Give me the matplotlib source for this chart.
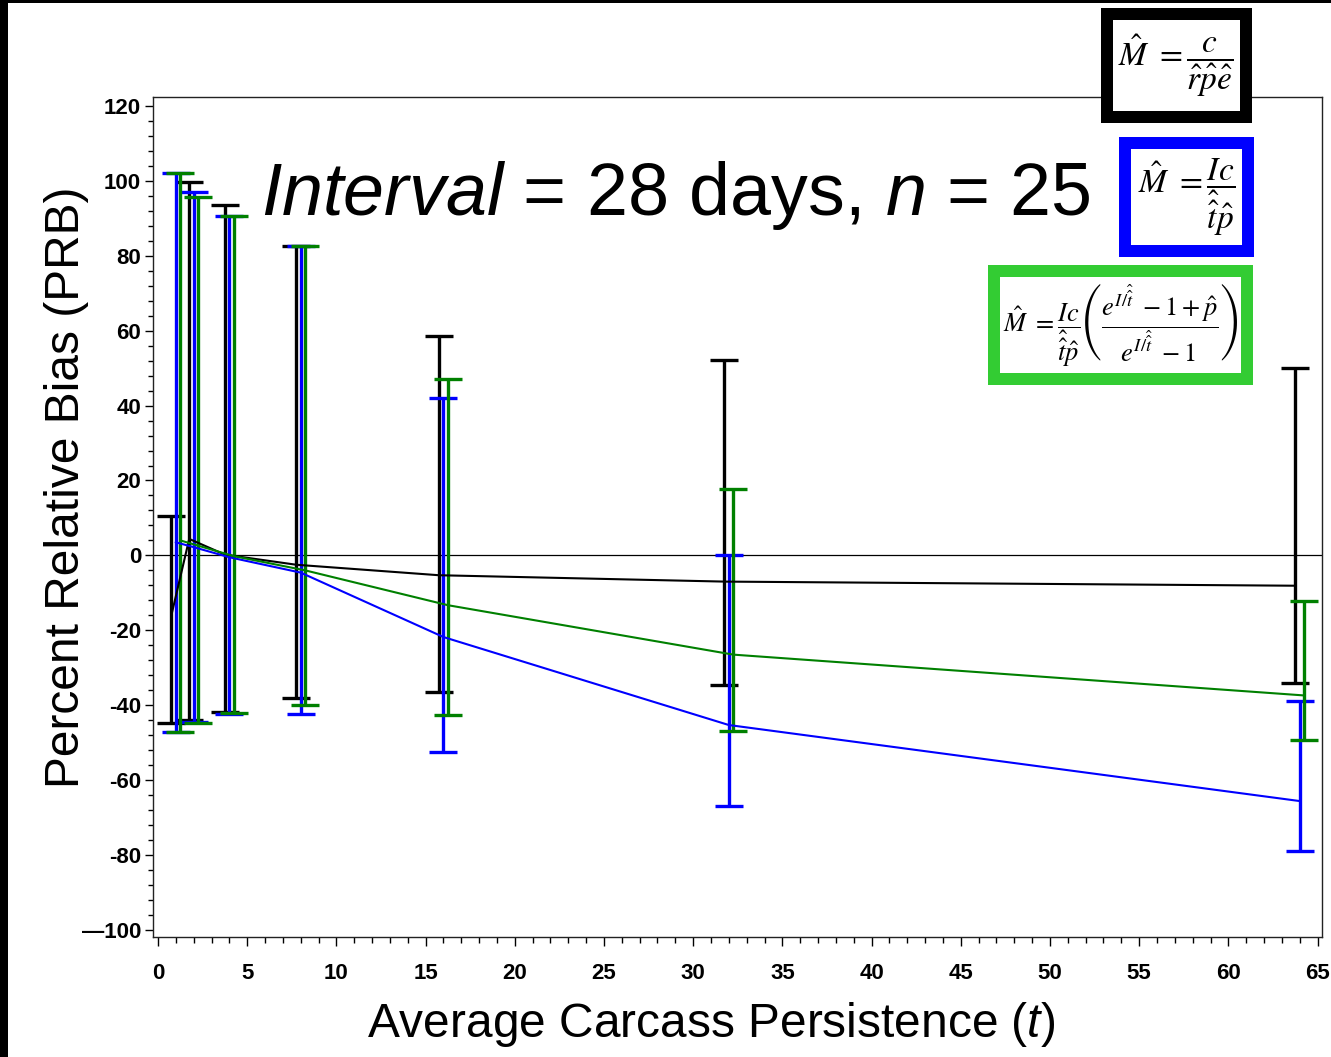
import matplotlib
matplotlib.use("Agg")
import matplotlib.pyplot as plt
from matplotlib.patches import Rectangle
from matplotlib.ticker import MultipleLocator

# ---------------- data ----------------
t_values = [1, 2, 4, 8, 16, 32, 64]

black_mean = [-16.0, 4.4, 0.2, -2.5, -5.3, -7.0, -8.1]
black_lo = [-44.7, -44.0, -41.7, -38.2, -36.6, -34.7, -34.2]
black_hi = [10.6, 99.8, 93.6, 82.7, 58.7, 52.2, 50.0]

blue_mean = [3.5, 2.2, -0.5, -4.6, -21.8, -45.3, -65.6]
blue_lo = [-47.1, -44.5, -42.4, -42.4, -52.4, -66.9, -79.0]
blue_hi = [102.1, 97.0, 90.5, 82.7, 41.9, 0.2, -39.0]

green_mean = [4.0, 2.6, -0.2, -4.0, -13.3, -26.5, -37.4]
green_lo = [-47.1, -44.7, -42.0, -40.0, -42.5, -46.9, -49.4]
green_hi = [102.1, 95.7, 90.5, 82.7, 47.0, 17.7, -12.1]

x_ticks = [0, 5, 10, 15, 20, 25, 30, 35, 40, 45, 50, 55, 60, 65]
y_ticks = [-100, -80, -60, -40, -20, 0, 20, 40, 60, 80, 100, 120]
y_tick_labels = ["\u2014100", "-80", "-60", "-40", "-20", "0", "20", "40", "60", "80", "100", "120"]

title_text = r"$\mathit{Interval}$ = 28 days, $\mathit{n}$ = 25"
x_label = r"Average Carcass Persistence ($\mathit{t}$)"
y_label = "Percent Relative Bias (PRB)"
formula_black = r"$\hat{M}\ =\dfrac{c}{\hat{r}\hat{p}\hat{e}}$"
formula_blue = r"$\hat{M}\ =\dfrac{Ic}{\hat{\hat{t}}\hat{p}}$"
formula_green = (r"$\hat{M}\ =\dfrac{Ic}{\hat{\hat{t}}\hat{p}}"
                 r"\left(\dfrac{e^{I/\hat{\hat{t}}}\ -1+\hat{p}}{e^{I/\hat{\hat{t}}}\ -1}\right)$")

# ---------------- style ----------------
plt.rcParams["font.family"] = ["Liberation Sans", "DejaVu Sans"]
plt.rcParams["mathtext.fontset"] = "custom"
plt.rcParams["mathtext.rm"] = "Liberation Sans"
plt.rcParams["mathtext.it"] = "Liberation Sans:italic"
plt.rcParams["mathtext.bf"] = "Liberation Sans:bold"

W, H = 1331, 1057
fig = plt.figure(figsize=(W / 100, H / 100), dpi=100)
fig.patch.set_facecolor("white")

def fx(px):
    return px / W

def fy(py):
    return 1 - py / H

ax = fig.add_axes([fx(153), fy(937), fx(1322) - fx(153), fy(97) - fy(937)])
ax.set_xlim(-0.28, 65.25)
ax.set_ylim(-101.9, 122.4)

ax.axhline(0, color="black", lw=0.9, zorder=1)

series = [
    (black_mean, black_lo, black_hi, "black", -0.25),
    (blue_mean, blue_lo, blue_hi, "#0000ff", 0.0),
    (green_mean, green_lo, green_hi, "#008000", 0.25),
]
for mean, lo, hi, col, dx in series:
    xs = [t + dx for t in t_values]
    yerr = [[m - l for m, l in zip(mean, lo)], [h - m for m, h in zip(mean, hi)]]
    ax.errorbar(xs, mean, yerr=yerr, fmt="-", color=col, lw=1.5,
                elinewidth=2.4, capsize=10, capthick=2.4, zorder=3)

ax.set_xticks(x_ticks)
ax.set_xticklabels([str(v) for v in x_ticks])
ax.set_yticks(y_ticks)
ax.set_yticklabels(y_tick_labels)
ax.xaxis.set_minor_locator(MultipleLocator(1))
ax.yaxis.set_minor_locator(MultipleLocator(4))
ax.tick_params(axis="x", which="major", length=6.5, width=1, pad=12, labelsize=16)
ax.tick_params(axis="x", which="minor", length=4.5, width=1)
ax.tick_params(axis="y", which="major", length=5.5, width=1, pad=3, labelsize=16)
ax.tick_params(axis="y", which="minor", length=3.5, width=1)
for lab in ax.get_xticklabels() + ax.get_yticklabels():
    lab.set_fontweight("bold")
for sp in ax.spines.values():
    sp.set_linewidth(1.0)
    sp.set_color("#222222")

# texts
fig.text(fx(676), fy(215), title_text, ha="center", va="baseline", fontsize=53)
fig.text(fx(711), fy(1037), x_label, ha="center", va="baseline", fontsize=34.5)
fig.text(fx(67), fy(487), y_label, ha="center", va="center", rotation=90, fontsize=34.5)

# black borders of the slide
fig.add_artist(Rectangle((0, fy(3)), 1, 3 / H, transform=fig.transFigure,
                         facecolor="black", edgecolor="none", zorder=10))
fig.add_artist(Rectangle((0, 0), 8 / W, 1, transform=fig.transFigure,
                         facecolor="black", edgecolor="none", zorder=10))

# formula boxes
def formula_box(x0, y0, x1, y1, color, text, size):
    lwpx = 12
    rx0, ry0, rx1, ry1 = x0 + lwpx / 2, y0 + lwpx / 2, x1 - lwpx / 2, y1 - lwpx / 2
    fig.add_artist(Rectangle((fx(rx0), fy(ry1)), fx(rx1) - fx(rx0), fy(ry0) - fy(ry1),
                             transform=fig.transFigure, facecolor="white",
                             edgecolor=color, linewidth=lwpx * 0.72, zorder=10))
    fig.text(fx((x0 + x1) / 2), fy((y0 + y1) / 2), text, ha="center", va="center",
             fontsize=size, math_fontfamily="stix", zorder=11)

formula_box(1100.7, 8.3, 1251.7, 123.3, "black", formula_black, 24)
formula_box(1119.3, 136.7, 1254, 256.7, "#0000ff", formula_blue, 24)
formula_box(988.3, 265, 1253.3, 385, "#33cc33", formula_green, 19)

fig.savefig("out.png", dpi=100)
